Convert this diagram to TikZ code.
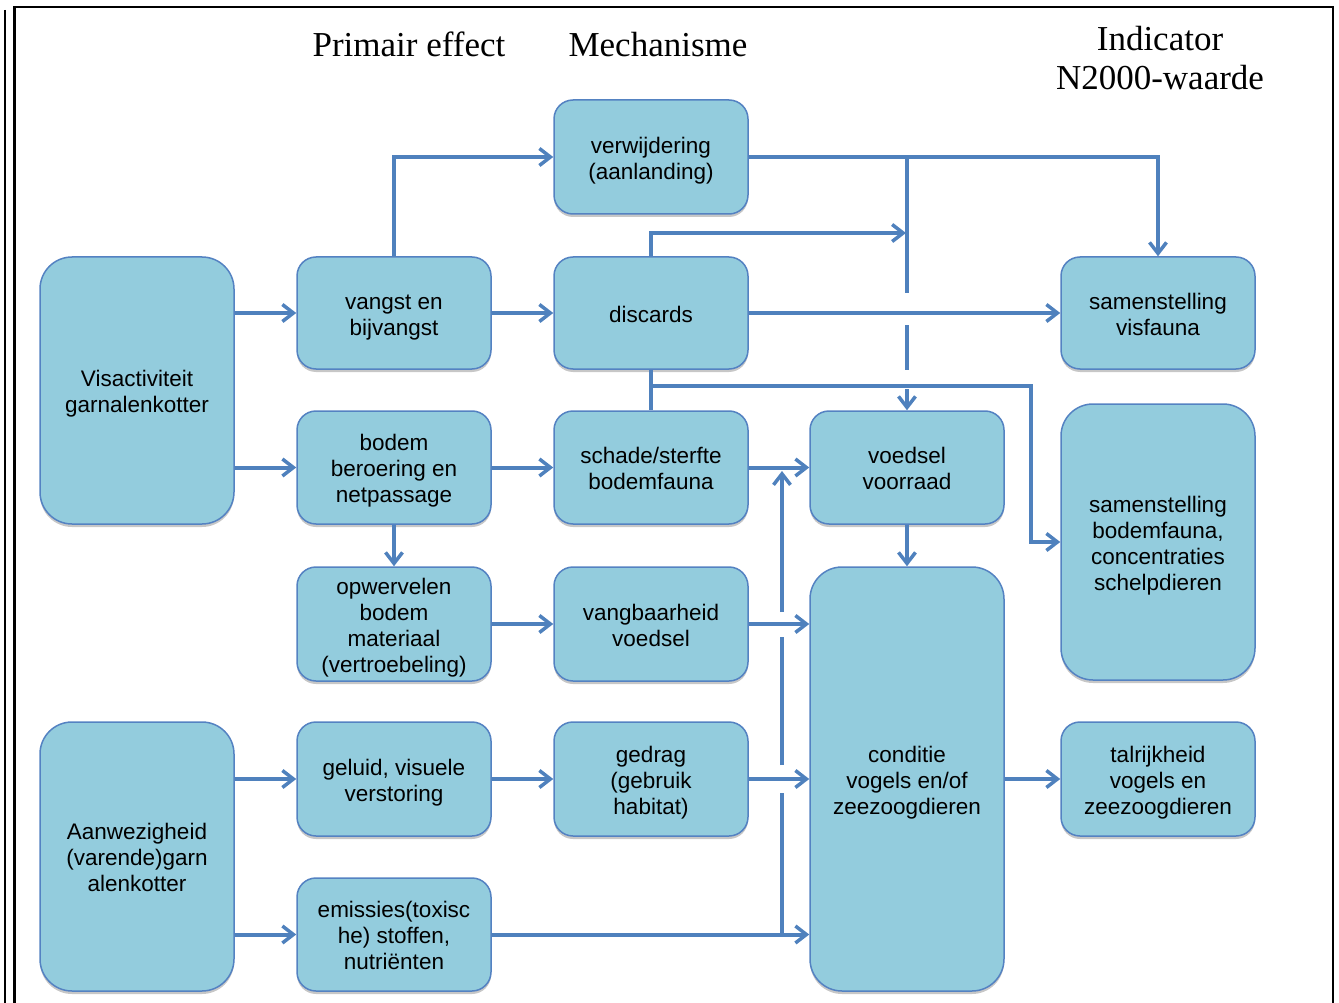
\documentclass[tikz,border=0pt]{standalone}
\usepackage{fontspec}
\setmainfont{Liberation Sans}
\newfontfamily\hdrfont{Liberation Serif}
\usetikzlibrary{arrows.meta,shadows,calc}
\definecolor{boxfill}{RGB}{147,204,221}
\definecolor{boxline}{RGB}{84,130,194}
\definecolor{conn}{RGB}{79,129,189}
\newcommand\Ts{\rule{0pt}{26pt}}
\newcommand\Bs{\rule[-7.8pt]{0pt}{7.8pt}}
\tikzset{
  box/.style={draw=boxline, line width=1.5pt, fill=boxfill, rounded corners=19pt,
    minimum width=194pt, inner sep=0pt, align=center,
    font=\fontsize{22.5}{26}\selectfont,
    drop shadow={shadow xshift=0pt, shadow yshift=-3pt, opacity=0.22, fill=black}},
  bigbox/.style={box, rounded corners=32pt},
  hdr/.style={font=\hdrfont\fontsize{35}{39}\selectfont, anchor=base, inner sep=0pt},
  conline/.style={draw=conn, line width=4pt},
  arr/.style={conline, -{Straight Barb[length=11pt,width=17pt,line width=3.5pt]}},
  frame/.style={draw=black, line width=2.5pt}
}
\begin{document}
\begin{tikzpicture}[x=1pt,y=-1pt]
\useasboundingbox (0,0) rectangle (1339,1003);
% frame
\draw[frame, line width=2pt] (5,10) -- (5,1003);
\draw[frame] (14.5,1003) -- (14.5,7) -- (1333,7) -- (1333,1003);

% headers
\node[hdr] (h1) at (409,57) {Primair effect};
\node[hdr] (h2) at (658,57) {Mechanisme};
\node[hdr] (h3) at (1160,51) {Indicator};
\node[hdr] (h4) at (1160,90) {N2000-waarde};

% boxes
\node[bigbox, minimum height=267pt] (vis) at (137,390.5) {\Ts Visactiviteit\\garnalenkotter\Bs};
\node[bigbox, minimum height=269pt] (aanw) at (137,856.5) {\Ts Aanwezigheid\\(varende)garn\\alenkotter\Bs};

\node[box, minimum height=112pt] (vangst) at (394,313) {\Ts vangst en\\bijvangst\Bs};
\node[box, minimum height=113pt] (bodem) at (394,467.5) {\Ts bodem\\beroering en\\netpassage\Bs};
\node[box, minimum height=114pt] (opw) at (394,624) {\Ts opwervelen\\bodem\\materiaal\\(vertroebeling)\Bs};
\node[box, minimum height=114pt] (geluid) at (394,779) {\Ts geluid, visuele\\verstoring\Bs};
\node[box, minimum height=113pt] (emis) at (394,934.5) {\Ts emissies(toxisc\\he) stoffen,\\nutriënten\Bs};

\node[box, minimum height=114pt] (verw) at (651,157) {\Ts verwijdering\\(aanlanding)\Bs};
\node[box, minimum height=112pt] (disc) at (651,313) {\Ts discards\Bs};
\node[box, minimum height=113pt] (schade) at (651,467.5) {\Ts schade/sterfte\\bodemfauna\Bs};
\node[box, minimum height=114pt] (vang) at (651,624) {\Ts vangbaarheid\\voedsel\Bs};
\node[box, minimum height=114pt] (gedrag) at (651,779) {\Ts gedrag\\(gebruik\\habitat)\Bs};

\node[box, minimum height=113pt] (voed) at (907,467.5) {\Ts voedsel\\voorraad\Bs};
\node[bigbox, minimum height=424pt] (cond) at (907,779) {\Ts conditie\\vogels en/of\\zeezoogdieren\Bs};

\node[box, minimum height=112pt] (visf) at (1158,313) {\Ts samenstelling\\visfauna\Bs};
\node[bigbox, minimum height=276pt] (bodf) at (1158,542) {\Ts samenstelling\\bodemfauna,\\concentraties\\schelpdieren\Bs};
\node[box, minimum height=114pt] (talr) at (1158,779) {\Ts talrijkheid\\vogels en\\zeezoogdieren\Bs};

% helper coordinates
\coordinate (k0) at (907,157);
\coordinate (k1) at (907,293);
\coordinate (k2) at (907,325);
\coordinate (k3) at (907,370);
\coordinate (k4) at (907,389);
\coordinate (dtip) at (906,233);
\coordinate (j2) at (651,386);
\coordinate (j3) at (1031,542);
\coordinate (v0) at (782,935);
\coordinate (v1) at (782,793);
\coordinate (v2) at (782,765);
\coordinate (v3) at (782,637);
\coordinate (v4) at (782,612);
\coordinate (vtop) at (782,471);

% connectors
\draw[arr] (vis.east |- vangst) -- (vangst.west);
\draw[arr] (vis.east |- bodem) -- (bodem.west);
\draw[arr] (aanw.east |- geluid) -- (geluid.west);
\draw[arr] (aanw.east |- emis) -- (emis.west);

\draw[arr] (vangst.east) -- (disc.west);
\draw[arr] (vangst.north) |- (verw.west);
\draw[arr] (bodem.east) -- (schade.west);
\draw[arr] (bodem.south) -- (opw.north);
\draw[arr] (opw.east) -- (vang.west);
\draw[arr] (geluid.east) -- (gedrag.west);
\draw[arr] (emis.east) -- (cond.west |- emis);

\draw[arr] (schade.east) -- (voed.west);
\draw[arr] (vang.east) -- (cond.west |- vang);
\draw[arr] (gedrag.east) -- (cond.west |- gedrag);
\draw[arr] (voed.south) -- (cond.north);
\draw[arr] (cond.east |- talr) -- (talr.west);

\draw[arr] (disc.east) -- (visf.west);
\draw[arr] (verw.east) -| (visf.north);
\draw[arr] (disc.north) |- (dtip);

\draw[conline] (k0) -- (k1);
\draw[conline] (k2) -- (k3);
\draw[arr] (k4) -- (voed.north);

\draw[conline] (disc.south) -- (schade.north);
\draw[arr] (j2) -| (j3) -- (bodf.west);

\draw[conline] (v0) -- (v1);
\draw[conline] (v2) -- (v3);
\draw[arr] (v4) -- (vtop);
\end{tikzpicture}
\end{document}
